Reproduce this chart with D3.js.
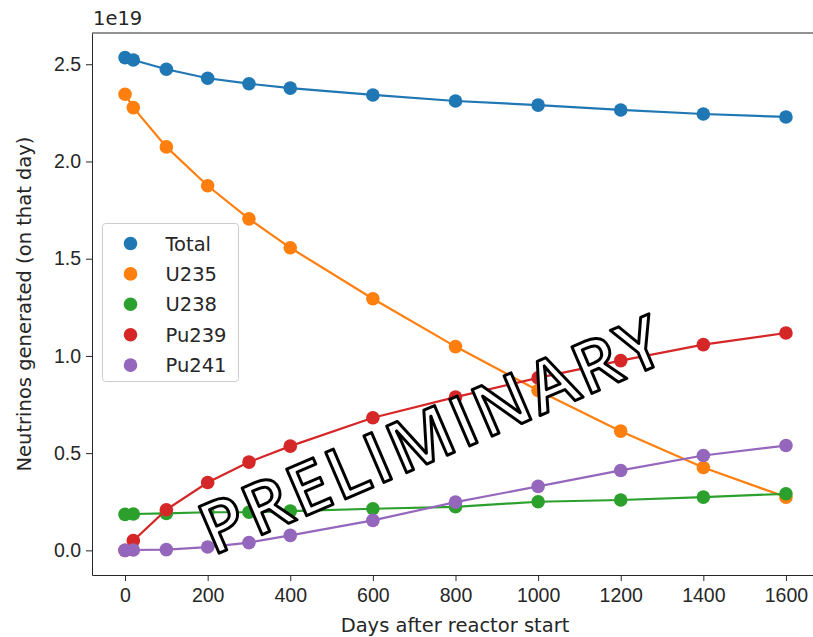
<!DOCTYPE html>
<html lang="en">
<head>
<meta charset="utf-8">
<title>Neutrinos generated</title>
<script src="https://d3js.org/d3.v7.min.js"></script>
<style>
  html, body { margin: 0; padding: 0; background: #fff; }
  svg { display: block; overflow: hidden; font-family: "DejaVu Sans", sans-serif; }
  .tick text { font-size: 19.5px; fill: #262626; }
  .tick line { stroke: #262626; }
  .domain { stroke: #262626; }
</style>
</head>
<body>
<svg id="chart"></svg>
<script>
// data (values in units of 1e19)
const days = [0, 20, 100, 200, 300, 400, 600, 800, 1000, 1200, 1400, 1600];
const total = [2.534, 2.522, 2.474, 2.428, 2.400, 2.377, 2.342, 2.311, 2.290, 2.265, 2.244, 2.229];
const u235 = [2.346, 2.277, 2.075, 1.875, 1.705, 1.556, 1.294, 1.048, 0.822, 0.613, 0.426, 0.274];
const u238 = [0.185, 0.187, 0.190, 0.196, 0.196, 0.202, 0.214, 0.224, 0.250, 0.259, 0.274, 0.291];
const pu239 = [0.0, 0.050, 0.209, 0.349, 0.454, 0.536, 0.682, 0.788, 0.887, 0.976, 1.058, 1.118];
const pu241 = [0.0, 0.002, 0.004, 0.017, 0.040, 0.077, 0.154, 0.248, 0.329, 0.411, 0.488, 0.539];
const seriesNames = ["Total", "U235", "U238", "Pu239", "Pu241"];
const colors = ["#1f77b4", "#ff7f0e", "#2ca02c", "#d62728", "#9467bd"];
const xTicks = [0, 200, 400, 600, 800, 1000, 1200, 1400, 1600];
const yTicks = [0, 0.5, 1.0, 1.5, 2.0, 2.5];

const allSeries = [total, u235, u238, pu239, pu241];

const width = 813, height = 637;
const margin = { top: 33, left: 92, right: -6, bottom: 62 };

const svg = d3.select("#chart").attr("width", width).attr("height", height);

// matplotlib style 5% padding
const xMin = d3.min(days), xMax = d3.max(days);
const yMin = d3.min(allSeries.flat()), yMax = d3.max(allSeries.flat());
const xPad = (xMax - xMin) * 0.05, yPad = (yMax - yMin) * 0.05;

const x = d3.scaleLinear()
  .domain([xMin - xPad, xMax + xPad])
  .range([margin.left, width - margin.right]);
const y = d3.scaleLinear()
  .domain([yMin - yPad, yMax + yPad])
  .range([height - margin.bottom, margin.top]);

// axes
svg.append("g")
  .attr("transform", `translate(0,${height - margin.bottom})`)
  .call(d3.axisBottom(x).tickValues(xTicks).tickFormat(d3.format("d")).tickSize(6).tickPadding(4).tickSizeOuter(0))
  .call(g => g.selectAll(".tick text").attr("dy", "0.85em"));

svg.append("g")
  .attr("transform", `translate(${margin.left},0)`)
  .call(d3.axisLeft(y).tickValues(yTicks).tickFormat(d3.format(".1f")).tickSize(6).tickPadding(5).tickSizeOuter(0));

// top and right spines
svg.append("line")
  .attr("x1", margin.left).attr("x2", width - margin.right)
  .attr("y1", margin.top).attr("y2", margin.top)
  .attr("stroke", "#262626");
svg.append("line")
  .attr("x1", width - margin.right).attr("x2", width - margin.right)
  .attr("y1", margin.top).attr("y2", height - margin.bottom)
  .attr("stroke", "#262626");

// labels
svg.append("text")
  .attr("x", 455)
  .attr("y", 632)
  .attr("text-anchor", "middle")
  .style("font-size", "19.5px").style("fill", "#262626")
  .text("Days after reactor start");

svg.append("text")
  .attr("transform", `translate(31,${(margin.top + height - margin.bottom) / 2}) rotate(-90)`)
  .attr("text-anchor", "middle")
  .style("font-size", "19.5px").style("fill", "#262626")
  .text("Neutrinos generated (on that day)");

svg.append("text")
  .attr("x", margin.left + 1)
  .attr("y", 25)
  .style("font-size", "19.5px").style("fill", "#262626")
  .text("1e19");

// lines and points
const line = d3.line().x((d, i) => x(days[i])).y(d => y(d));

allSeries.forEach((vals, k) => {
  svg.append("path")
    .datum(vals)
    .attr("fill", "none")
    .attr("stroke", colors[k])
    .attr("stroke-width", 2.2)
    .attr("d", line);
  svg.append("g").selectAll("circle")
    .data(vals)
    .enter()
    .append("circle")
    .attr("cx", (d, i) => x(days[i]))
    .attr("cy", d => y(d))
    .attr("r", 6.8)
    .attr("fill", colors[k]);
});

// legend
const legend = svg.append("g").attr("transform", "translate(102.5,223.5)");
legend.append("rect")
  .attr("width", 136).attr("height", 158)
  .attr("rx", 3)
  .attr("fill", "#fff").attr("fill-opacity", 0.8)
  .attr("stroke", "#cccccc");
seriesNames.forEach((name, k) => {
  const ry = 20 + k * 30.4;
  legend.append("circle")
    .attr("cx", 28).attr("cy", ry).attr("r", 6.8)
    .attr("fill", colors[k]);
  legend.append("text")
    .attr("x", 63).attr("y", ry)
    .attr("dy", "0.36em")
    .style("font-size", "19.5px").style("fill", "#262626")
    .text(name);
});

// watermark, placed at centre of its baseline
svg.append("text")
  .attr("transform", "translate(441,458) rotate(-23.2)")
  .attr("text-anchor", "middle")
  .attr("dx", 1.5)
  .style("font-family", "'Open Sans', sans-serif")
  .style("font-weight", "600")
  .style("font-size", "71px")
  .style("letter-spacing", "3px")
  .attr("fill", "#fff")
  .attr("stroke", "#000")
  .attr("stroke-width", 3)
  .attr("stroke-linejoin", "round")
  .text("PRELIMINARY");
</script>
</body>
</html>
